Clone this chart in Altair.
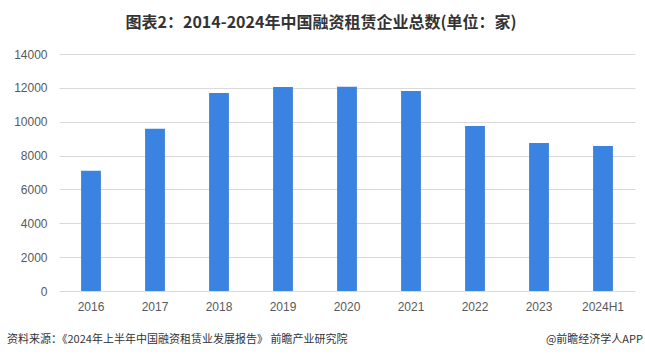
import altair as alt
import pandas as pd

years = ["2016", "2017", "2018", "2019", "2020", "2021", "2022", "2023", "2024H1"]
counts = [7100, 9580, 11700, 12050, 12060, 11820, 9750, 8750, 8570]
y_ticks = [0, 2000, 4000, 6000, 8000, 10000, 12000, 14000]

title_text = "图表2：2014-2024年中国融资租赁企业总数(单位：家)"
source_text = "资料来源：《2024年上半年中国融资租赁业发展报告》 前瞻产业研究院"
brand_text = "@前瞻经济学人APP"

df = pd.DataFrame({"year": years, "count": counts})

W, H = 576, 237

bars = alt.Chart(df).mark_bar(color="#3A83E0").encode(
    x=alt.X("year:N", sort=years, title=None,
            scale=alt.Scale(paddingInner=0.69, paddingOuter=0.345),
            axis=alt.Axis(labelAngle=0, ticks=False, domain=False, grid=False, labelPadding=10,
                          labelFont="Liberation Sans", labelFontSize=12,
                          labelColor="#595959")),
    y=alt.Y("count:Q", title=None,
            scale=alt.Scale(domain=[0, 14000], nice=False),
            axis=alt.Axis(values=y_ticks, format="d", ticks=False, domain=False, labelPadding=12,
                          labelFont="Liberation Sans", labelFontSize=12,
                          labelColor="#595959", gridColor="#D9D9D9", gridWidth=1)),
)

src = alt.Chart(pd.DataFrame({"t": [source_text]})).mark_text(
    align="left", baseline="middle", font="Noto Sans CJK SC", fontSize=11, color="#333333"
).encode(text="t:N", x=alt.value(-52), y=alt.value(H + 49))

brand = alt.Chart(pd.DataFrame({"t": [brand_text]})).mark_text(
    align="right", baseline="middle", font="Noto Sans CJK SC", fontSize=11, color="#333333"
).encode(text="t:N", x=alt.value(W + 8), y=alt.value(H + 49))

chart = alt.layer(bars, src, brand).properties(
    width=W, height=H,
    background="white",
    title=alt.TitleParams(title_text, font="Noto Sans CJK SC", fontSize=16, fontWeight="bold",
                          color="#333333", anchor="middle", offset=17, dx=-26),
    autosize=alt.AutoSizeParams(type="none"),
    padding={"left": 59, "top": 54, "right": 10, "bottom": 71},
).configure_view(stroke=None)

chart.save("out.html", embed_options={"renderer": "svg", "actions": False})
